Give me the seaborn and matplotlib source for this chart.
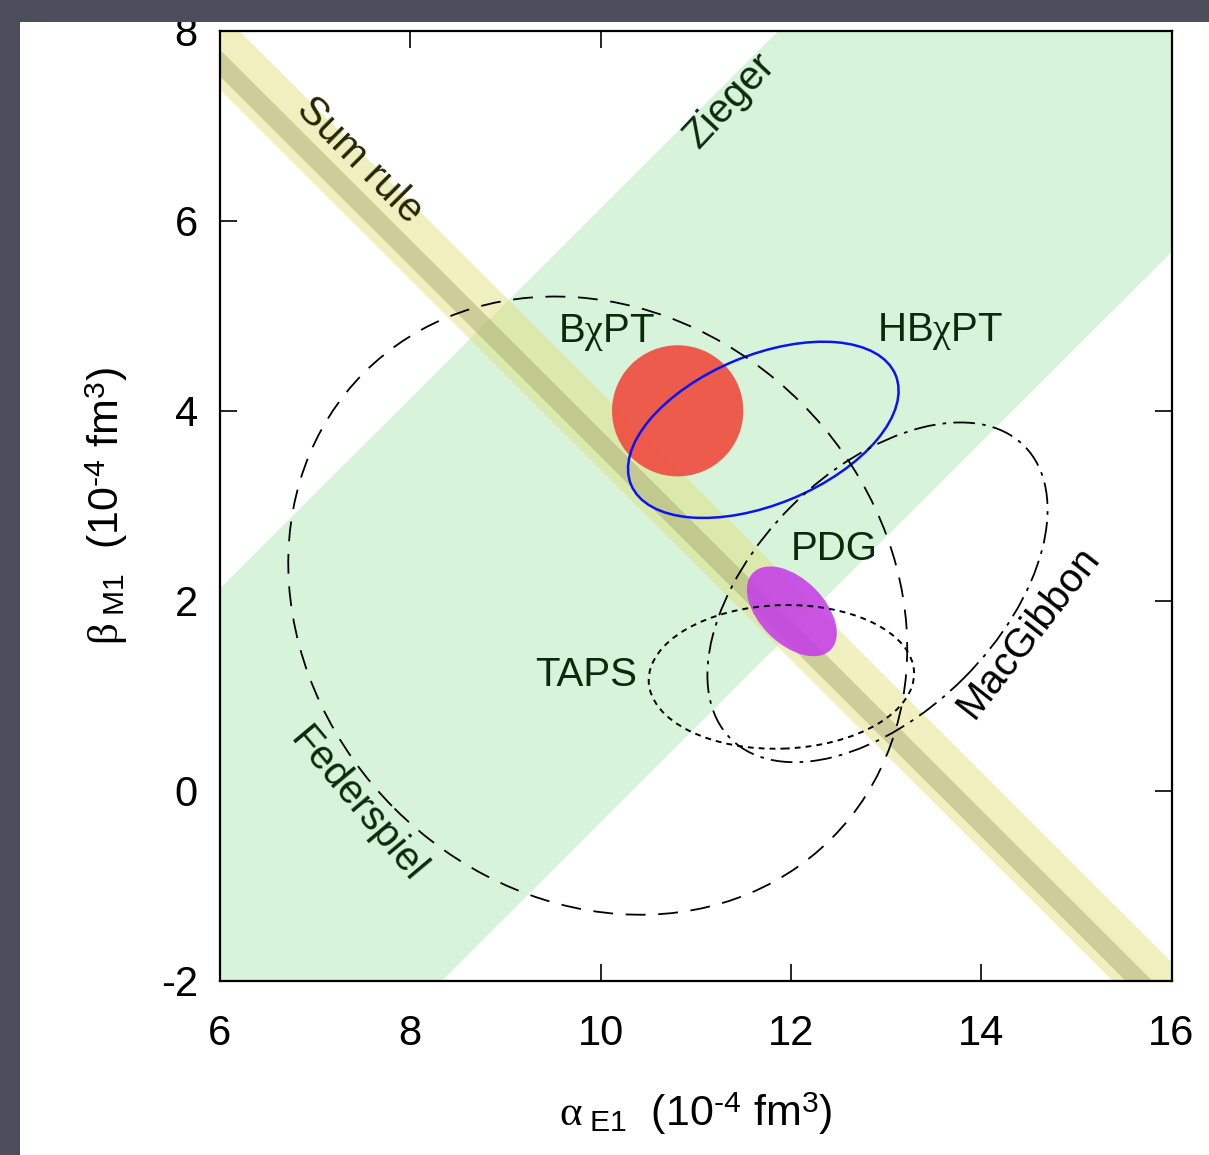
import matplotlib
matplotlib.use('Agg')
import matplotlib.pyplot as plt
import numpy as np
import seaborn as sns
from matplotlib.patches import Ellipse, Rectangle

# axis ticks
x_ticks = [6, 8, 10, 12, 14, 16]
y_ticks = [-2, 0, 2, 4, 6, 8]

# bands: sum rule is alpha + beta, Zieger is beta - alpha
sum_rule_outer = [13.38, 14.2]
sum_rule_inner = [13.52, 13.8]
zieger_band = [-10.33, -3.87]

# contours (centre, full width / height, tilt)
contour_names = ['BχPT', 'HBχPT', 'PDG', 'TAPS', 'Federspiel', 'MacGibbon']
contour_x = [10.81, 11.71, 12.01, 11.90, 9.97, 12.91]
contour_y = [4.00, 3.80, 1.89, 1.20, 1.95, 2.09]
contour_w = [1.38, 3.01, 1.15, 2.79, 6.94, 4.36]
contour_h = [1.38, 1.57, 0.68, 1.51, 6.04, 2.56]
contour_angle = [0, 22.6, -45, 2, -45, 45]

# text labels
label_text = ['Sum rule', 'Zieger', r'B$\chi$PT', r'HB$\chi$PT', 'PDG', 'TAPS',
              'MacGibbon', 'Federspiel']
label_x = [7.47, 11.36, 10.06, 13.57, 12.46, 9.85, 14.50, 7.45]
label_y = [6.64, 7.27, 4.82, 4.83, 2.55, 1.22, 1.67, -0.15]
label_rot = [-45, 47, 0, 0, 0, 0, 52, -50]

styles = {
    'BχPT': dict(fill=True, facecolor='#f04a3e', edgecolor='none', alpha=0.9),
    'HBχPT': dict(fill=False, edgecolor='#0a14f0', lw=1.8),
    'PDG': dict(fill=True, facecolor='#c53ee6', edgecolor='none', alpha=0.88),
    'TAPS': dict(fill=False, edgecolor='black', lw=1.4, linestyle=(0, (3, 2.6))),
    'Federspiel': dict(fill=False, edgecolor='black', lw=1.3, linestyle=(0, (11, 7))),
    'MacGibbon': dict(fill=False, edgecolor='black', lw=1.3,
                      linestyle=(0, (12, 4, 2, 4))),
}
label_colors = ['#262604', '#0b2a0b', '#0b2a0b', '#0b2a0b', '#0b2a0b', '#0b2a0b',
                'black', '#0b2a0b']

sns.set_theme(style='ticks', rc={
    'axes.unicode_minus': False,
    'axes.linewidth': 1.6,
    'axes.edgecolor': 'black',
    'xtick.color': 'black',
    'ytick.color': 'black',
    'text.color': 'black',
    'axes.labelcolor': 'black',
})
plt.rcParams['font.family'] = ['Liberation Sans', 'DejaVu Sans']
plt.rcParams['mathtext.fontset'] = 'custom'
plt.rcParams['mathtext.rm'] = 'Liberation Sans'
plt.rcParams['mathtext.it'] = 'Liberation Serif'
plt.rcParams['mathtext.bf'] = 'Liberation Sans:bold'

fig = plt.figure(figsize=(12.09, 11.55), dpi=100)
fig.patch.set_facecolor('white')
ax = fig.add_axes([220 / 1209, 1 - 981 / 1155, 951.5 / 1209, 950.3 / 1155])

xs = np.array([x_ticks[0] - 4, x_ticks[-1] + 4], dtype=float)

# Zieger band
ax.fill_between(xs, xs + zieger_band[0], xs + zieger_band[1],
                color='#d7f3d9', lw=0, zorder=1)
# sum rule band
ax.fill_between(xs, sum_rule_outer[0] - xs, sum_rule_outer[1] - xs,
                color='#e1e183', alpha=0.5, lw=0, zorder=2)
ax.fill_between(xs, sum_rule_inner[0] - xs, sum_rule_inner[1] - xs,
                color='#9a9a60', alpha=0.4, lw=0, zorder=2)

for name, cx, cy, w, h, ang in zip(contour_names, contour_x, contour_y,
                                   contour_w, contour_h, contour_angle):
    st = styles[name]
    z = 3 if st.get('fill') else 4
    ax.add_patch(Ellipse((cx, cy), w, h, angle=ang, zorder=z, **st))

for t, lx, ly, r, c in zip(label_text, label_x, label_y, label_rot, label_colors):
    ax.text(lx, ly, t, rotation=r, rotation_mode='anchor', ha='center',
            va='center', fontsize=29, color=c, zorder=5)

ax.set_xlim(x_ticks[0], x_ticks[-1])
ax.set_ylim(y_ticks[0], y_ticks[-1])
ax.set_xticks(x_ticks)
ax.set_yticks(y_ticks)
ax.tick_params(direction='in', length=12, width=1.2, top=True, right=True,
               labelsize=30)
ax.tick_params(axis='x', pad=24)
ax.tick_params(axis='y', pad=16)
ax.set_xlabel('$\\alpha_{\\ \\mathrm{E1}}$  (10$^{\\mathrm{\u20104}}$ fm$^{\\mathrm{3}}$)',
              fontsize=31, labelpad=26)
ax.set_ylabel('$\\beta_{\\ \\mathrm{M1}}$  (10$^{\\mathrm{\u20104}}$ fm$^{\\mathrm{3}}$)',
              fontsize=31, labelpad=22)

# slide background frame
fig.add_artist(Rectangle((0, 0), 20 / 1209, 1, transform=fig.transFigure,
                         color='#4c4f5b', lw=0, zorder=10))
fig.add_artist(Rectangle((0, 1 - 22 / 1155), 1, 22 / 1155,
                         transform=fig.transFigure, color='#4c4f5b', lw=0,
                         zorder=10))

fig.savefig('out.png', dpi=100)
